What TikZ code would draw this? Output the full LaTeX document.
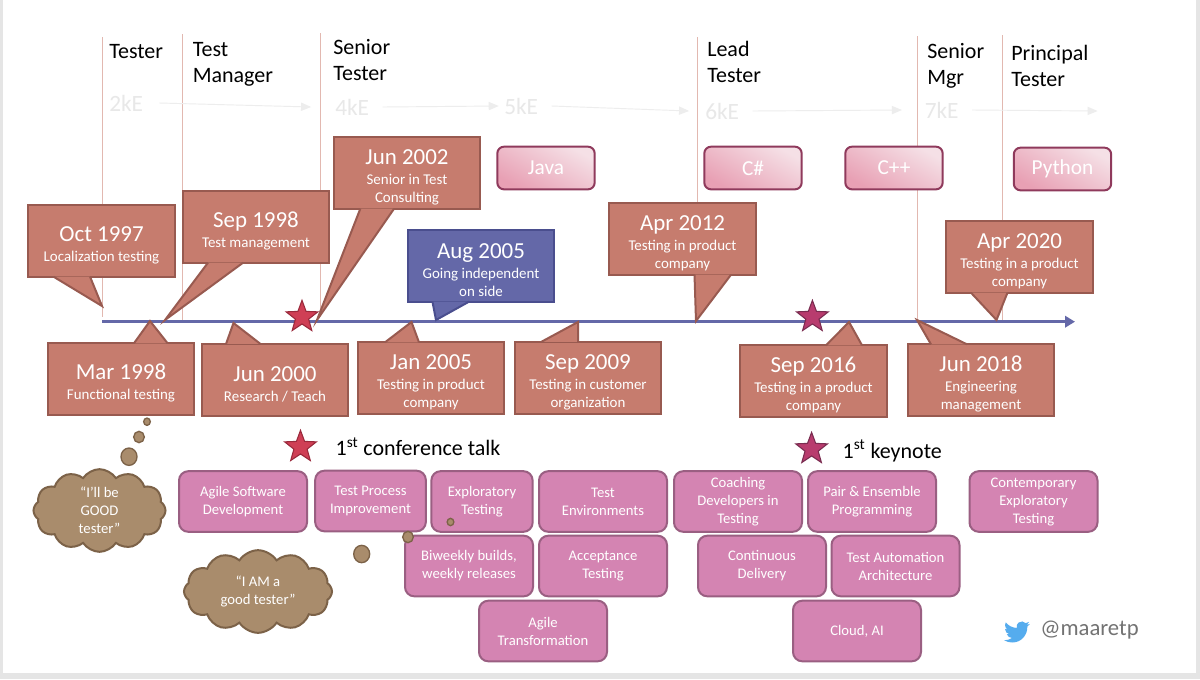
\documentclass[tikz,border=0pt]{standalone}
\usepackage{fontspec}
\setmainfont{Carlito}
\usepackage{xcolor}
\usetikzlibrary{shapes,arrows,arrows.meta}
\usetikzlibrary{positioning}
\definecolor{eventred}{HTML}{C67C6E}
\definecolor{eventedge}{HTML}{985A50}
\definecolor{sideblue}{HTML}{6468A8}
\definecolor{sideedge}{HTML}{4A4E8E}
\definecolor{skillpink}{HTML}{D484B2}
\definecolor{skilledge}{HTML}{9A5F82}
\definecolor{cloudtan}{HTML}{A98C6C}
\definecolor{cloudedge}{HTML}{7C6248}
\definecolor{paygray}{HTML}{E8E8E8}
\definecolor{ruleline}{HTML}{E2B8B0}
\definecolor{birdblue}{HTML}{55ACEE}
\definecolor{langedge}{HTML}{8F3A5C}
\definecolor{langdark}{HTML}{E8A0B4}
\definecolor{langpale}{HTML}{F5E0E6}
\definecolor{talkfill}{HTML}{CF3F55}
\definecolor{talkedge}{HTML}{9A2A3C}
\definecolor{keyfill}{HTML}{B83C6E}
\definecolor{keyedge}{HTML}{7A2C50}
\tikzstyle{role} = [anchor=west, align=left, inner sep=0, text=black,
    font=\fontsize{16.5}{19.5}\selectfont]
\tikzstyle{pay} = [anchor=west, inner sep=0, text=paygray,
    font=\fontsize{17.5}{19.5}\selectfont]
\tikzstyle{payline} = [draw=paygray!80!white, line width=.7pt, -triangle 45]
\tikzstyle{rule} = [draw=ruleline, line width=.7pt]
\tikzstyle{lang} = [rectangle, draw=langedge, line width=1.5pt,
    rounded corners=5pt, left color=langpale, right color=langdark,
    shading angle=-30, minimum width=73pt, minimum height=32pt,
    inner sep=0, text=white, font=\fontsize{16}{19}\selectfont]
\tikzstyle{event} = [rectangle, draw=eventedge, fill=eventred, line width=1.5pt,
    minimum width=110pt, minimum height=54pt, inner sep=0, align=center, text=white,
    font=\fontsize{11.2}{13.5}\selectfont]
\tikzstyle{tail} = [draw=eventedge, fill=eventred, line width=1.5pt, line join=miter]
\tikzstyle{sideevent} = [event, draw=sideedge, fill=sideblue]
\tikzstyle{sidetail} = [tail, draw=sideedge, fill=sideblue]
\tikzstyle{skill} = [rectangle, draw=skilledge, fill=skillpink, line width=1.5pt,
    rounded corners=7pt, minimum width=96pt, minimum height=45.5pt, inner sep=0,
    align=center, text=white, font=\fontsize{11}{13.5}\selectfont]
\tikzstyle{thought} = [cloud, cloud puffs=12, cloud puff arc=115, cloud ignores aspect,
    draw=cloudedge, fill=cloudtan, line width=1.5pt, inner sep=0, align=center,
    text=white, font=\fontsize{11}{13.5}\selectfont]
\tikzstyle{bubble} = [ellipse, draw=cloudedge, fill=cloudtan, line width=1pt, inner sep=0]
\tikzstyle{talk} = [star, star points=5, star point ratio=2.4, minimum size=25pt,
    inner sep=0, line width=.8pt, draw=talkedge, fill=talkfill]
\tikzstyle{keystyle} = [talk, draw=keyedge, fill=keyfill]
\tikzstyle{milestone} = [inner sep=0, text=black, font=\fontsize{16.5}{19}\selectfont]
\newcommand{\evdate}[1]{{\fontsize{17.2}{19}\selectfont\rule{0pt}{18pt}#1}\\[1.5pt]}

\begin{document}
\begin{tikzpicture}[x=.75pt, y=-.75pt]
  \useasboundingbox (0,0) rectangle (1200,679);
  % Slide
  \fill [black!10] (0,0) rectangle (1200,679);
  \fill [white] (3,0) rectangle (1196,673);

  % Career rules
  \foreach \name/\x/\top/\bot in {a/102/37/317, b/182.5/34/320, c/320/33/317,
      d/697/37/320, e/917.5/36/320, f/1002.5/35/320} {
    \coordinate (\name top) at (\x,\top);
    \coordinate (\name bot) at (\x,\bot);
    \draw [rule] (\name top) -- (\name bot);
  }

  % Place roles and pay
  \node [role] (tester) at (109,52) {Tester};
  \node [role] (testmgr) at (192.5,64) {Test\\Manager};
  \node [role] (seniortester) at (333,60) {Senior\\Tester};
  \node [role] (leadtester) at (707,62) {Lead\\Tester};
  \node [role] (seniormgr) at (927,65.5) {Senior\\Mgr};
  \node [role] (principal) at (1011,65.5) {Principal\\Tester};
  \node [pay] (pay2) at (109,103) {2kE};
  \node [pay] (pay4) at (335,107) {4kE};
  \node [pay] (pay5) at (504,106) {5kE};
  \node [pay] (pay6) at (705,111) {6kE};
  \node [pay] (pay7) at (924.5,110) {7kE};
  \coordinate (payend) at (1097.5,111);
  \path [payline] ([xshift=12pt]pay2.east) -- ([xshift=-18pt]pay4.west);
  \path [payline] ([xshift=10pt]pay4.east) -- ([xshift=-4pt]pay5.west);
  \path [payline] ([xshift=10pt]pay5.east) -- ([xshift=-12pt]pay6.west);
  \path [payline] ([xshift=10pt]pay6.east) -- ([xshift=-17pt]pay7.west);
  \path [payline] ([xshift=10pt]pay7.east) -- (payend);

  % Languages
  \node [lang] (java) at (546,168) {Java};
  \node [lang] (csharp) at (753,168) {C\#};
  \node [lang] (cpp) at (894,168) {C++};
  \node [lang] (python) at (1062.5,169) {Python};

  % Timeline
  \coordinate (linestart) at (102,321.7);
  \coordinate (lineend) at (1075,321.7);
  \draw [sideblue, line width=2.4pt, -{Triangle[length=7.5pt,width=8.5pt]}] (linestart) -- (lineend);

  % Tips on the timeline
  \coordinate (tiposct) at (102,306);
  \coordinate (tipsepa) at (165,320);
  \coordinate (tipjuna) at (317,320);
  \coordinate (tipaug) at (436,320);
  \coordinate (tipapra) at (696,321);
  \coordinate (tipaprb) at (996.5,320);
  \coordinate (tipmar) at (150,321);
  \coordinate (tipjunb) at (233.5,323);
  \coordinate (tipjan) at (411.5,322);
  \coordinate (tipsepb) at (578,322);
  \coordinate (tipsepc) at (849,322);
  \coordinate (tipjunc) at (917,320);

  % Place events
  \node [event] (oct) at (101.5,241) {\evdate{Oct 1997}Localization testing};
  \node [event] (sepa) at (256,227) {\evdate{Sep 1998}Test management};
  \node [event] (juna) at (407,173) {\evdate{Jun 2002}Senior in Test\\Consulting};
  \node [sideevent] (aug) at (481,266) {\evdate{Aug 2005}Going independent\\on side};
  \node [event] (apra) at (682.5,239) {\evdate{Apr 2012}Testing in product\\company};
  \node [event] (aprb) at (1019.5,257) {\evdate{Apr 2020}Testing in a product\\company};
  \node [event] (mar) at (121,379) {\evdate{Mar 1998}Functional testing};
  \node [event] (junb) at (275,379.5) {\evdate{Jun 2000}Research / Teach};
  \node [event] (jan) at (431,378) {\evdate{Jan 2005}Testing in product\\company};
  \node [event] (sepb) at (588,377.5) {\evdate{Sep 2009}Testing in customer\\organization};
  \node [event] (sepc) at (813.5,381) {\evdate{Sep 2016}Testing in a product\\company};
  \node [event] (junc) at (981,380) {\evdate{Jun 2018}Engineering\\management};

  % Draw tails
  \path [tail] ([xshift=-36pt,yshift=1pt]oct.south) -- (tiposct) -- ([xshift=-8.6pt,yshift=1pt]oct.south);
  \path [tail] ([xshift=-36pt,yshift=1pt]sepa.south) -- (tipsepa) -- ([xshift=-9.7pt,yshift=1pt]sepa.south);
  \path [tail] ([xshift=-35pt,yshift=1pt]juna.south) -- (tipjuna) -- ([xshift=-9.7pt,yshift=1pt]juna.south);
  \path [sidetail] ([xshift=-36.4pt,yshift=1pt]aug.south) -- (tipaug) -- ([xshift=-9pt,yshift=1pt]aug.south);
  \path [tail] ([xshift=9pt,yshift=1pt]apra.south) -- (tipapra) -- ([xshift=36.4pt,yshift=1pt]apra.south);
  \path [tail] ([xshift=-36.4pt,yshift=1pt]aprb.south) -- (tipaprb) -- ([xshift=-9pt,yshift=1pt]aprb.south);
  \path [tail] ([xshift=9.7pt,yshift=-1pt]mar.north) -- (tipmar) -- ([xshift=35pt,yshift=-1pt]mar.north);
  \path [tail] ([xshift=-36.7pt,yshift=-1pt]junb.north) -- (tipjunb) -- ([xshift=-11pt,yshift=-1pt]junb.north);
  \path [tail] ([xshift=-34.5pt,yshift=-1pt]jan.north) -- (tipjan) -- ([xshift=-9pt,yshift=-1pt]jan.north);
  \path [tail] ([xshift=-35pt,yshift=-1pt]sepb.north) -- (tipsepb) -- ([xshift=-7.5pt,yshift=-1pt]sepb.north);
  \path [tail] ([xshift=9.4pt,yshift=-1pt]sepc.north) -- (tipsepc) -- ([xshift=36.4pt,yshift=-1pt]sepc.north);
  \path [tail] ([xshift=-37.5pt,yshift=-1pt]junc.north) -- (tipjunc) -- ([xshift=-10.5pt,yshift=-1pt]junc.north);

  % Stars
  \node [talk] (talkline) at (302,317) {};
  \node [keystyle] (keyline) at (812.4,317) {};
  \node [talk] (talkstar) at (300.5,447) {};
  \node [keystyle] (keystar) at (811.6,449) {};
  \node [milestone, right=18.5pt of talkstar] (talklabel) {1\textsuperscript{st} conference talk};
  \node [milestone, right=15.5pt of keystar, yshift=-1.5pt] (keylabel) {1\textsuperscript{st} keynote};

  % Place skills
  \node [skill] (agile) at (243,501.5) {Agile Software\\Development};
  \node [skill, minimum width=83pt] (process) at (370.5,501) {Test Process\\Improvement};
  \node [skill, minimum width=76pt] (explore) at (482,501.5) {Exploratory\\Testing};
  \node [skill] (environ) at (603,501.5) {Test\\Environments};
  \node [skill] (coach) at (738,501.5) {Coaching\\Developers in\\Testing};
  \node [skill] (pair) at (872,501.5) {Pair \& Ensemble\\Programming};
  \node [skill] (contemp) at (1033.5,501.5) {Contemporary\\Exploratory\\Testing};
  \node [skill] (biweekly) at (469,566) {Biweekly builds,\\weekly releases};
  \node [skill] (accept) at (603,566) {Acceptance\\Testing};
  \node [skill] (delivery) at (762,566) {Continuous\\Delivery};
  \node [skill] (automation) at (895.5,566) {Test Automation\\Architecture};
  \node [skill] (transform) at (543,631) {Agile\\Transformation};
  \node [skill] (cloudai) at (857,631) {Cloud, AI};

  % Thoughts
  \node [thought, minimum width=99pt, minimum height=62pt] (good) at (99.5,510.5) {“I’ll be\\GOOD\\tester”};
  \node [thought, minimum width=111pt, minimum height=62pt] (iam) at (258,591.5) {“I AM a\\good tester”};
  \node [bubble, minimum width=5pt, minimum height=5.5pt] (gooda) at (147,421.7) {};
  \node [bubble, minimum width=8pt, minimum height=8.5pt] (goodb) at (139,437) {};
  \node [bubble, minimum width=12pt, minimum height=13pt] (goodc) at (129,456.7) {};
  \node [bubble, minimum width=5pt, minimum height=5.5pt] (iama) at (450.5,522) {};
  \node [bubble, minimum width=8pt, minimum height=8.5pt] (iamb) at (408,537) {};
  \node [bubble, minimum width=12pt, minimum height=13pt] (iamc) at (361.7,554) {};

  % Handle
  \begin{scope}[shift={(1004,619)}, scale=1.08]
    \fill [birdblue] (23.95,4.57) .. controls (23.1,5) and (22.1,5.25) .. (21.13,5.35)
      .. controls (22.2,4.7) and (23,3.7) .. (23.29,2.62)
      .. controls (22.34,3.18) and (21.29,3.58) .. (20.16,3.81)
      .. controls (18.5,2) and (15.5,1.7) .. (13.5,3.3)
      .. controls (12,4.5) and (11.3,6.4) .. (11.78,8.29)
      .. controls (7.69,8.1) and (4.07,6.13) .. (1.64,3.16)
      .. controls (1.2,3.9) and (.97,4.75) .. (.97,5.64)
      .. controls (.97,7.35) and (1.84,8.85) .. (3.16,9.73)
      .. controls (2.4,9.7) and (1.6,9.5) .. (.93,9.12) -- (.93,9.18)
      .. controls (.93,11.5) and (2.6,13.55) .. (4.88,14)
      .. controls (4.2,14.2) and (3.4,14.2) .. (2.67,14.09)
      .. controls (3.3,16.05) and (5.1,17.45) .. (7.27,17.51)
      .. controls (5.5,18.9) and (3.35,19.61) .. (1.17,19.61)
      .. controls (.78,19.61) and (.39,19.59) .. (0,19.54)
      .. controls (2.2,20.96) and (4.8,21.75) .. (7.56,21.75)
      .. controls (16.61,21.75) and (21.56,14.26) .. (21.56,7.77)
      .. controls (21.56,7.56) and (21.56,7.35) .. (21.54,7.14)
      .. controls (22.5,6.45) and (23.34,5.58) .. (23.95,4.57) -- cycle;
  \end{scope}
  \node [anchor=west, inner sep=0, text=black!55, font=\fontsize{17}{20}\selectfont] (handle) at (1040,630) {@maaretp};
\end{tikzpicture}
\end{document}
